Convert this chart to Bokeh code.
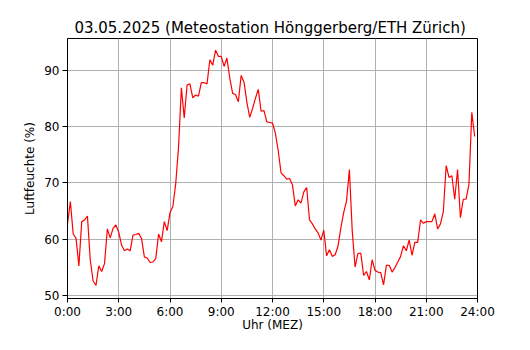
from bokeh.plotting import figure
from bokeh.models import Range1d, FixedTicker, ColumnDataSource
from bokeh.embed import file_html
from bokeh.resources import INLINE

# 10-minute readings, 03.05.2025 (relative humidity, %)
humidity = [
    62.7, 66.7, 60.9, 60.1, 55.2, 63.1, 63.4, 64.1, 56.2, 52.5, 51.7, 55.2,
    54.2, 55.6, 61.8, 60.2, 61.9, 62.5, 61.2, 58.9, 57.9, 58.2, 57.9, 60.7,
    60.8, 61.0, 60.1, 56.8, 56.6, 55.8, 55.9, 56.5, 60.9, 59.5, 63.1, 61.5,
    64.7, 65.8, 69.8, 76.4, 87.0, 81.6, 87.5, 87.7, 85.2, 85.7, 85.5, 87.9,
    87.9, 87.7, 92.0, 91.0, 93.7, 92.6, 92.6, 90.8, 92.3, 88.7, 86.0, 85.8,
    84.5, 89.2, 88.0, 84.4, 81.7, 83.3, 85.1, 86.7, 82.8, 82.9, 80.9, 80.8,
    80.7, 78.9, 75.8, 71.8, 71.3, 70.7, 70.8, 69.7, 65.9, 67.0, 66.4, 68.4,
    69.2, 63.4, 62.7, 61.8, 61.1, 59.8, 61.6, 57.0, 58.1, 56.9, 57.2, 58.7,
    62.0, 64.7, 66.8, 72.4, 61.5, 55.0, 57.4, 57.5, 53.5, 54.2, 52.7, 56.3,
    54.4, 54.1, 54.0, 51.8, 55.3, 55.3, 54.1, 54.9, 55.9, 56.9, 58.8, 57.9,
    59.8, 57.1, 59.4, 59.4, 63.4, 62.8, 63.1, 63.1, 63.1, 64.5, 61.8, 62.7,
    64.9, 73.1, 71.0, 71.3, 67.1, 72.4, 63.8, 67.1, 67.1, 69.8, 82.6, 78.3,
]
hours = [i / 6 for i in range(len(humidity))]  # time stamps every 10 minutes

x_ticks = [0, 3, 6, 9, 12, 15, 18, 21, 24]
x_tick_labels = ["0:00", "3:00", "6:00", "9:00", "12:00", "15:00", "18:00", "21:00", "24:00"]
y_ticks = [50, 60, 70, 80, 90]

title_text = "03.05.2025  (Meteostation Hönggerberg/ETH Zürich)"
x_label = "Uhr (MEZ)"
y_label = "Luftfeuchte (%)"

FONT = "DejaVu Sans"

p = figure(width=514, height=334, output_backend="svg", toolbar_location=None,
           x_range=Range1d(0, 24), y_range=Range1d(49.38, 95.79),
           title=title_text)
p.min_border_left = 67
p.min_border_right = 37
p.min_border_top = 38
p.min_border_bottom = 30
p.background_fill_color = "white"
p.border_fill_color = "white"
p.outline_line_color = "black"
p.outline_line_width = 1
p.outline_line_alpha = 1

p.title.text_font = FONT
p.title.text_font_size = "15px"
p.title.text_font_style = "normal"
p.title.text_color = "black"
p.title.align = "center"
p.title.standoff = 4

src = ColumnDataSource(dict(h=hours, v=humidity))
p.line("h", "v", source=src, line_color="#ff0000", line_width=1.2)

for ax in (p.xaxis[0], p.yaxis[0]):
    ax.axis_line_color = "black"
    ax.axis_line_width = 1
    ax.major_tick_line_color = "black"
    ax.major_tick_in = 0
    ax.major_tick_out = 5
    ax.minor_tick_line_color = None
    ax.major_label_text_font = FONT
    ax.major_label_text_font_size = "12px"
    ax.major_label_text_color = "black"
    ax.axis_label_text_font = FONT
    ax.axis_label_text_font_size = "12px"
    ax.axis_label_text_font_style = "normal"
    ax.axis_label_text_color = "black"

p.xaxis[0].ticker = FixedTicker(ticks=x_ticks)
p.xaxis[0].major_label_overrides = {t: lab for t, lab in zip(x_ticks, x_tick_labels)}
p.xaxis[0].axis_label = x_label
p.xaxis[0].major_tick_out = 4
p.xaxis[0].major_label_standoff = 2
p.xaxis[0].axis_label_standoff = -4

p.yaxis[0].ticker = FixedTicker(ticks=y_ticks)
p.yaxis[0].axis_label = y_label
p.yaxis[0].major_label_standoff = 3
p.yaxis[0].axis_label_standoff = 4

p.xgrid.ticker = FixedTicker(ticks=x_ticks)
p.ygrid.ticker = FixedTicker(ticks=y_ticks)
for g in (p.xgrid[0], p.ygrid[0]):
    g.grid_line_color = "#b0b0b0"
    g.grid_line_width = 1

open("out.html", "w").write(file_html(p, INLINE))
